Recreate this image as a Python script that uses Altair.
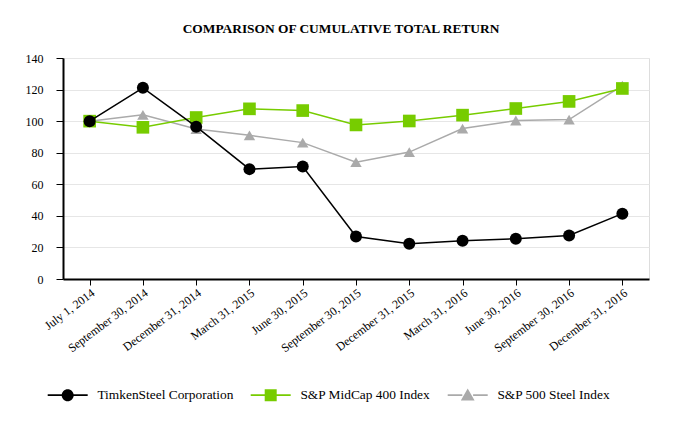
import altair as alt
import pandas as pd

dates = ["July 1, 2014", "September 30, 2014", "December 31, 2014", "March 31, 2015",
         "June 30, 2015", "September 30, 2015", "December 31, 2015", "March 31, 2016",
         "June 30, 2016", "September 30, 2016", "December 31, 2016"]
timken = [100, 121.1, 96.5, 69.6, 71.3, 26.9, 22.3, 24.2, 25.5, 27.6, 41.4]
midcap = [100, 96.1, 102.3, 107.8, 106.7, 97.6, 100.1, 103.8, 108.0, 112.5, 120.7]
steel = [100, 104.0, 95.0, 91.0, 86.4, 74.0, 80.4, 95.3, 100.4, 101.0, 122.5]
series_names = ["TimkenSteel Corporation", "S&P MidCap 400 Index", "S&P 500 Steel Index"]
colors = ["#000000", "#77cc00", "#aaaaaa"]
point_shapes = ["circle", "square", "triangle-up"]
point_sizes = [144, 160, 130]
y_ticks = [0, 20, 40, 60, 80, 100, 120, 140]

# legend symbols: marker with a line through it (filled paths only)
legend_paths = [
    "M-3.333,-0.13H-0.9V0.13H-3.333Z M0.9,-0.13H3.333V0.13H0.9Z M1,0A1,1,0,1,1,-1,0A1,1,0,1,1,1,0Z",
    "M-3.333,-0.13H-0.9V0.13H-3.333Z M0.9,-0.13H3.333V0.13H0.9Z M-1,-1H1V1H-1Z",
    "M-3.333,-0.13H-0.9V0.13H-3.333Z M0.9,-0.13H3.333V0.13H0.9Z M0,-1.1L1.15,0.9L-1.15,0.9Z",
]

rows = []
for name, vals in zip(series_names, [timken, midcap, steel]):
    for d, v in zip(dates, vals):
        rows.append({"date": d, "series": name, "value": v})
df = pd.DataFrame(rows)

FONT = "Liberation Serif"

x_enc = alt.X("date:N", sort=dates,
              scale=alt.Scale(type="point", padding=0.5),
              axis=alt.Axis(title=None, labelAngle=-37, labelFont=FONT, labelFontSize=12,
                            labelColor="black", domainColor="black", domainWidth=2,
                            tickColor="black", tickSize=6, tickWidth=1, grid=False,
                            labelPadding=2))
y_enc = alt.Y("value:Q", scale=alt.Scale(domain=[0, 140], nice=False),
              axis=alt.Axis(title=None, values=y_ticks, labelFont=FONT, labelFontSize=12,
                            labelColor="black", domainColor="black", domainWidth=2,
                            tickColor="black", tickSize=7, tickWidth=1, labelPadding=13,
                            grid=True, gridColor="#e6e6e6", gridWidth=1))

base = alt.Chart(df)

# legend-only layer: no rows survive the filter, legend entries come from the explicit domain
legend_layer = base.transform_filter(alt.datum.value < 0).mark_point(filled=True, opacity=1).encode(
    x=x_enc, y=y_enc,
    color=alt.Color("series:N", scale=alt.Scale(domain=series_names, range=colors),
                    legend=alt.Legend(title=None, orient="none", legendX=-2, legendY=330,
                                      direction="horizontal", symbolSize=144,
                                      symbolOpacity=1, symbolStrokeWidth=0,
                                      labelOffset=23, columnPadding=16,
                                      labelFont=FONT, labelFontSize=13.4, labelColor="black",
                                      labelLimit=300)),
    shape=alt.Shape("series:N", scale=alt.Scale(domain=series_names, range=legend_paths)),
)

layers = [legend_layer]
for idx in [2, 1, 0]:
    name = series_names[idx]
    sub = base.transform_filter(alt.datum.series == name)
    layers.append(sub.mark_line(color=colors[idx], strokeWidth=1.5).encode(x=x_enc, y=y_enc))
    layers.append(sub.mark_point(filled=True, opacity=1, color=colors[idx],
                                 shape=point_shapes[idx], size=point_sizes[idx]).encode(x=x_enc, y=y_enc))

chart = alt.layer(*layers).properties(
    width=586, height=221,
    title=alt.TitleParams("COMPARISON OF CUMULATIVE TOTAL RETURN", font=FONT, fontSize=13.4,
                          fontWeight="bold", color="black", anchor="middle", dx=-15, offset=17),
    autosize=alt.AutoSizeParams(type="none"),
    padding={"left": 55, "top": 50, "right": 25, "bottom": 145},
).configure_view(stroke=None).configure(background="white")

chart.save("out.html", embed_options={"renderer": "svg", "actions": False})
